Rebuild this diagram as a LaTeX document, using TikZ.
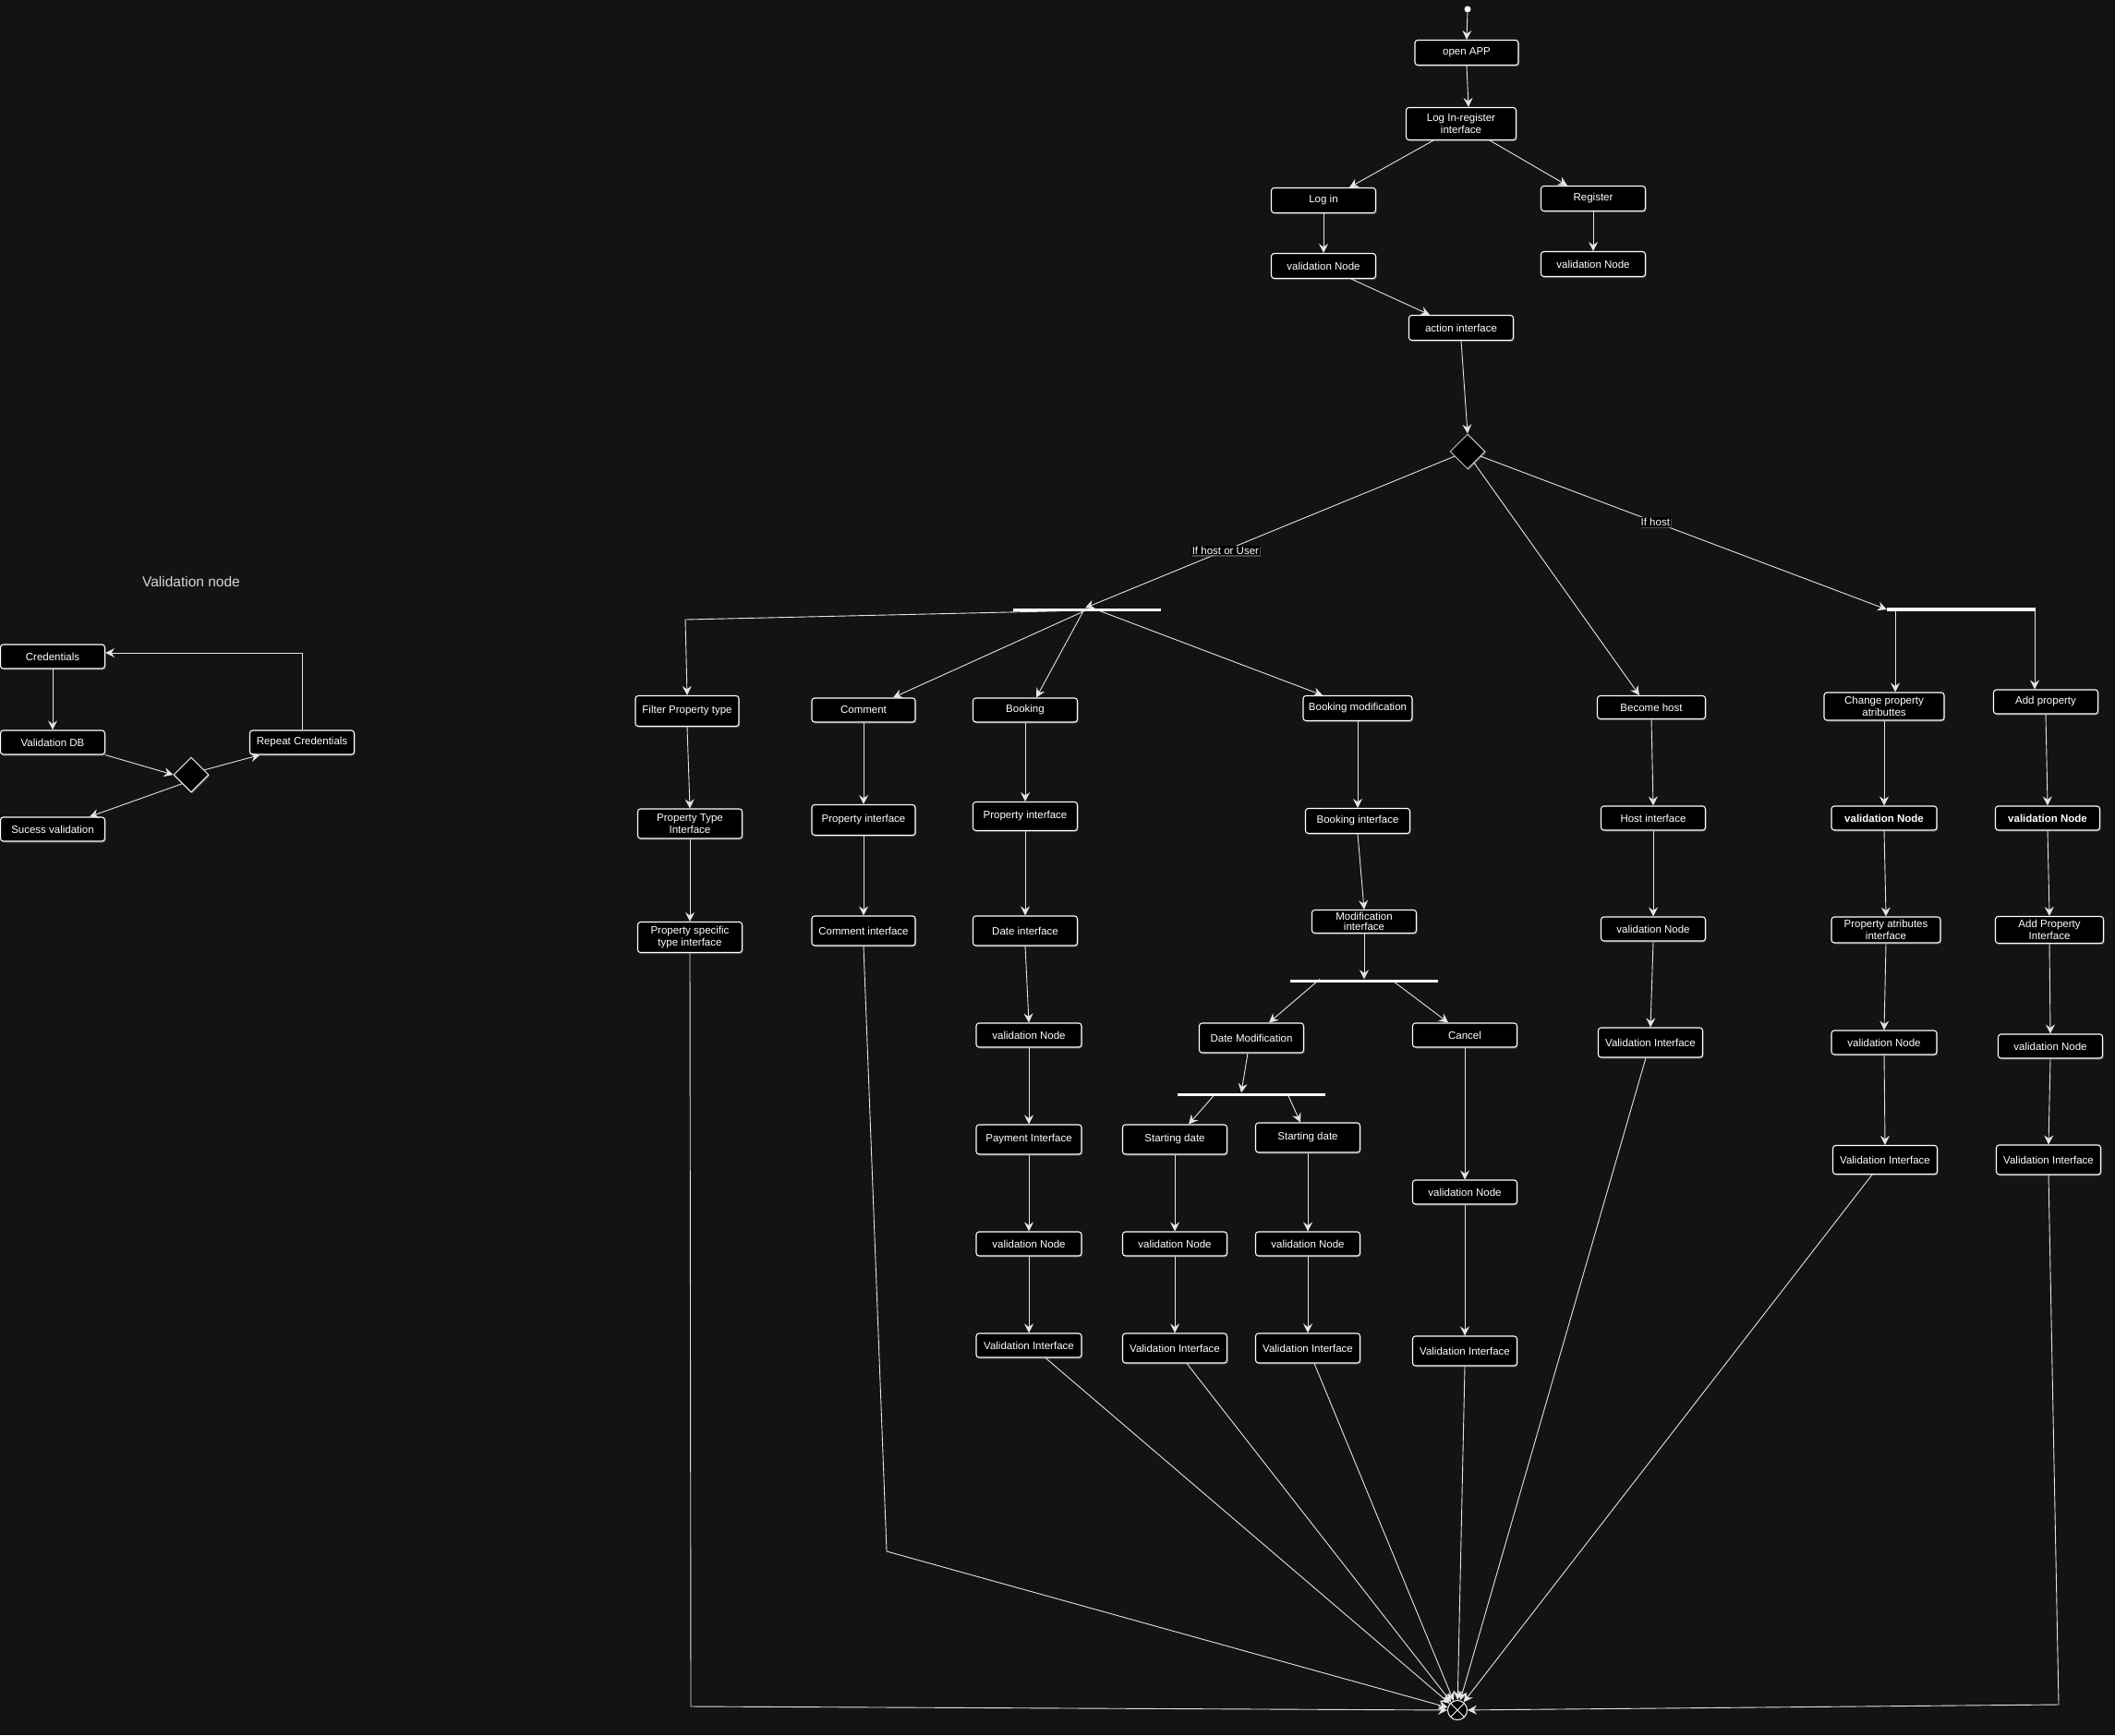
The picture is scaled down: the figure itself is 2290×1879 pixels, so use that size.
\documentclass[tikz,border=0pt]{standalone}
\usepackage{fontspec}
\setmainfont{Liberation Sans}
\usetikzlibrary{shapes.geometric,arrows.meta,shadows,calc}
\definecolor{bg}{RGB}{19,19,20}
\definecolor{ln}{RGB}{228,228,228}
\definecolor{glow}{RGB}{100,106,122}
\definecolor{ttl}{RGB}{215,215,215}
\newcommand{\nf}{\fontsize{11.5}{13}\selectfont}
\begin{document}
\begin{tikzpicture}[x=1pt,y=-1pt,
  box/.style={draw=white, line width=1.1pt, fill=black, rounded corners=3pt, text=white,
    font=\nf, align=center, inner sep=1pt, minimum width=113pt, minimum height=26pt,
    drop shadow={shadow xshift=1.2pt, shadow yshift=-1.5pt, fill=glow, opacity=0.6}},
  tall/.style={minimum height=32pt},
  conn/.style={draw=ln, line width=0.9pt, -{Stealth[length=10pt,width=10pt,inset=3.5pt]}},
  plain/.style={draw=ln, line width=0.9pt},
  bar/.style={fill=white, inner sep=0pt, minimum height=3pt},
  dia/.style={diamond, draw=white, line width=1pt, fill=black, inner sep=0pt, minimum size=38pt,
    drop shadow={shadow xshift=1.2pt, shadow yshift=-1.5pt, fill=glow, opacity=0.6}},
  lab/.style={fill=black, text=white, font=\nf, inner sep=1pt,
    drop shadow={shadow xshift=1.2pt, shadow yshift=-1.5pt, fill=glow, opacity=0.6}}
]
\useasboundingbox (0,0) rectangle (2290,1879);
\fill[bg] (0,0) rectangle (2290,1879);

% ---------- Validation node section ----------
\node[text=ttl, font=\fontsize{15.5}{18}\selectfont] (title) at (207,630) {Validation node};
\node[box] (cred) at (57,711) {Credentials};
\node[box] (vdb) at (57,804) {Validation DB};
\node[box] (succ) at (57,898) {Sucess validation};
\node[dia] (vdec) at (207,839) {};
\node[box] (rep) at (327,804) {Repeat Credentials};

\draw[conn] (cred.south) -- (vdb.north);
\draw[conn] (vdb.south east) -- (vdec.west);
\draw[conn] (vdec.20) -- ([xshift=11.5pt]rep.south west);
\draw[conn] (vdec.south west) -- ([xshift=40pt]succ.north);
\draw[conn] (rep.north) |- ([yshift=4pt]cred.east);

% ---------- Top ----------
\node[circle, fill=white, inner sep=0pt, minimum size=7pt] (startdot) at (1589,10) {};
\node[box, minimum width=112pt, minimum height=27pt] (openapp) at (1588,57) {open APP};
\node[box, minimum width=119pt, minimum height=35pt] (lir) at (1582,134) {Log In-register\\interface};
\node[box, minimum height=27pt] (login) at (1433,217) {Log in};
\node[box, minimum height=27pt] (register) at (1725,215) {Register};
\node[box, minimum height=27pt] (vnL) at (1433,288) {validation Node};
\node[box, minimum height=27pt] (vnR) at (1725,286) {validation Node};
\node[box, minimum height=27pt] (action) at (1582,355) {action interface};
\node[dia, draw={rgb,255:red,200;green,200;blue,200}] (dec) at (1589,489) {};

\draw[conn] (startdot) -- (openapp.north);
\draw[conn] (openapp.south) -- ([xshift=8pt]lir.north);
\draw[conn] ([xshift=-30pt]lir.south) -- ([xshift=28pt]login.north);
\draw[conn] ([xshift=31pt]lir.south) -- ([xshift=-28pt]register.north);
\draw[conn] (login.south) -- (vnL.north);
\draw[conn] (register.south) -- (vnR.north);
\draw[conn] ([xshift=30pt]vnL.south) -- ([xshift=-34pt]action.north);
\draw[conn] (action.south) -- (dec.north);

% ---------- Fork bars ----------
\node[bar, minimum width=160pt] (fork1) at (1177,660) {};
\node[bar, minimum width=161pt, minimum height=4.5pt] (fork2) at (2123.5,660) {};

\draw[conn] (dec.-160) -- node[lab, pos=0.62] {If host or User} ([xshift=-2pt]fork1.north);
\draw[conn] (dec.-20) -- node[lab, pos=0.43] {If host} (fork2.west);

% ---------- Left group ----------
\node[box, minimum width=112pt, minimum height=33pt] (filter) at (744,770) {Filter Property type};
\node[box, tall] (ptype) at (747,892) {Property Type\\Interface};
\node[box, minimum height=33pt] (pspec) at (747,1015) {Property specific\\type interface};

\node[box, minimum width=112pt] (comment) at (935,769) {Comment};
\node[box, minimum width=112pt, minimum height=33pt] (propC) at (935,888) {Property interface};
\node[box, minimum width=112pt, tall] (commentI) at (935,1008) {Comment interface};

\node[box] (booking) at (1110,769) {Booking};
\node[box, minimum height=31pt] (propB) at (1110,884) {Property interface};
\node[box, tall] (dateI) at (1110,1008) {Date interface};
\node[box, minimum width=114pt] (vnB1) at (1114,1121) {validation Node};
\node[box, minimum width=114pt, tall] (payI) at (1114,1234) {Payment Interface};
\node[box, minimum width=114pt] (vnB2) at (1114,1347) {validation Node};
\node[box, minimum width=114pt] (viB) at (1114,1457) {Validation Interface};

\node[box, minimum width=118pt, minimum height=27pt] (bookmod) at (1470,767) {Booking modification};
\node[box, minimum height=27pt] (bookI) at (1470,889) {Booking interface};
\node[box, minimum height=25pt, inner sep=0pt, font=\fontsize{11.5}{11.5}\selectfont] (modI) at (1477,998) {Modification\\interface};
\node[bar, minimum width=160pt] (fork3) at (1477,1062) {};
\node[box, tall] (datemod) at (1355,1124) {Date Modification};
\node[box] (cancel) at (1586,1121) {Cancel};
\node[bar, minimum width=160pt] (fork4) at (1355,1185) {};
\node[box, tall] (sd1) at (1272,1234) {Starting date};
\node[box, tall] (sd2) at (1416,1232) {Starting date};
\node[box] (vnS1) at (1272,1347) {validation Node};
\node[box] (vnS2) at (1416,1347) {validation Node};
\node[box, tall] (viS1) at (1272,1460) {Validation Interface};
\node[box, tall] (viS2) at (1416,1460) {Validation Interface};
\node[box] (vnC) at (1586,1291) {validation Node};
\node[box, tall] (viC) at (1586,1463) {Validation Interface};

\coordinate (bF) at (742,671);
\draw[conn] ([xshift=-29pt]fork1.south) -- (bF) -- (filter.north);
\draw[conn] ([xshift=-3pt]fork1.south) -- ([xshift=32pt]comment.north);
\draw[conn] ([xshift=-4pt]fork1.south) -- ([xshift=12pt]booking.north);
\draw[conn] ([xshift=14pt]fork1.south) -- ([xshift=-38pt]bookmod.north);

\draw[conn] (filter.south) -- (ptype.north);
\draw[conn] (ptype.south) -- (pspec.north);
\draw[conn] (comment.south) -- (propC.north);
\draw[conn] (propC.south) -- (commentI.north);
\draw[conn] (booking.south) -- (propB.north);
\draw[conn] (propB.south) -- (dateI.north);
\draw[conn] (dateI.south) -- (vnB1.north);
\draw[conn] (vnB1.south) -- (payI.north);
\draw[conn] (payI.south) -- (vnB2.north);
\draw[conn] (vnB2.south) -- (viB.north);
\draw[conn] (bookmod.south) -- (bookI.north);
\draw[conn] (bookI.south) -- (modI.north);
\draw[conn] (modI.south) -- (fork3.north);
\draw[conn] ([xshift=-48pt]fork3.north) -- ([xshift=19pt]datemod.north);
\draw[conn] ([xshift=33pt]fork3.south) -- ([xshift=-18pt]cancel.north);
\draw[conn] ([xshift=-4pt]datemod.south) -- ([xshift=-11pt]fork4.north);
\draw[conn] ([xshift=-41pt]fork4.south) -- ([xshift=15pt]sd1.north);
\draw[conn] ([xshift=40pt]fork4.south) -- ([xshift=-8pt]sd2.north);
\draw[conn] (sd1.south) -- (vnS1.north);
\draw[conn] (vnS1.south) -- (viS1.north);
\draw[conn] (sd2.south) -- (vnS2.north);
\draw[conn] (vnS2.south) -- (viS2.north);
\draw[conn] (cancel.south) -- (vnC.north);
\draw[conn] (vnC.south) -- (viC.north);

% ---------- Host branch ----------
\node[box, minimum width=117pt, minimum height=25pt] (become) at (1788,766) {Become host};
\node[box] (hostI) at (1790,886) {Host interface};
\node[box] (vnH) at (1790,1006) {validation Node};
\node[box, tall] (viH) at (1787,1129) {Validation Interface};

\node[box, minimum width=130pt, minimum height=30pt] (chprop) at (2040,765) {Change property\\atributtes};
\node[box, minimum width=114pt, font=\nf\bfseries] (vnP1) at (2040,886) {validation Node};
\node[box, minimum width=118pt, minimum height=28pt] (patI) at (2042,1007) {Property atributes\\interface};
\node[box, minimum width=114pt] (vnP2) at (2040,1129) {validation Node};
\node[box, minimum height=31pt] (viP) at (2041,1256) {Validation Interface};

\node[box] (addprop) at (2215,760) {Add property};
\node[box, font=\nf\bfseries] (vnA1) at (2217,886) {validation Node};
\node[box, minimum width=117pt, minimum height=29pt] (apI) at (2219,1007) {Add Property\\Interface};
\node[box] (vnA2) at (2220,1133) {validation Node};
\node[box, tall] (viA) at (2218,1256) {Validation Interface};

\draw[conn] (dec.-60) -- ([xshift=-13pt]become.north);
\draw[conn] (become.south) -- (hostI.north);
\draw[conn] (hostI.south) -- (vnH.north);
\draw[conn] (vnH.south) -- (viH.north);

\draw[conn] ([xshift=-71.5pt]fork2.south) -- ([xshift=12pt]chprop.north);
\draw[conn] ([xshift=79.5pt]fork2.south) -- ([xshift=-12pt]addprop.north);
\draw[conn] (chprop.south) -- (vnP1.north);
\draw[conn] (vnP1.south) -- (patI.north);
\draw[conn] (patI.south) -- (vnP2.north);
\draw[conn] (vnP2.south) -- (viP.north);
\draw[conn] (addprop.south) -- (vnA1.north);
\draw[conn] (vnA1.south) -- (apI.north);
\draw[conn] (apI.south) -- (vnA2.north);
\draw[conn] (vnA2.south) -- (viA.north);

% ---------- Final node ----------
\node[circle, draw=white, fill=black, line width=1pt, minimum size=21pt, inner sep=0pt,
  path picture={\draw[white, line width=0.9pt]
    (path picture bounding box.north west) -- (path picture bounding box.south east)
    (path picture bounding box.north east) -- (path picture bounding box.south west);}]
  (final) at (1578,1852) {};

\coordinate (bA) at (748,1848);
\coordinate (bB) at (960,1680);
\coordinate (bC) at (2229,1846);
\draw[conn] (pspec.south) -- (bA) -- (final);
\draw[conn] (commentI.south) -- (bB) -- (final);
\draw[conn] ([xshift=18pt]viB.south) -- (final);
\draw[conn] ([xshift=13pt]viS1.south) -- (final);
\draw[conn] ([xshift=7pt]viS2.south) -- (final);
\draw[conn] (viC.south) -- (final);
\draw[conn] ([xshift=-5pt]viH.south) -- (final);
\draw[conn] ([xshift=-14pt]viP.south) -- (final);
\draw[conn] (viA.south) -- (bC) -- (final);
\end{tikzpicture}
\end{document}
